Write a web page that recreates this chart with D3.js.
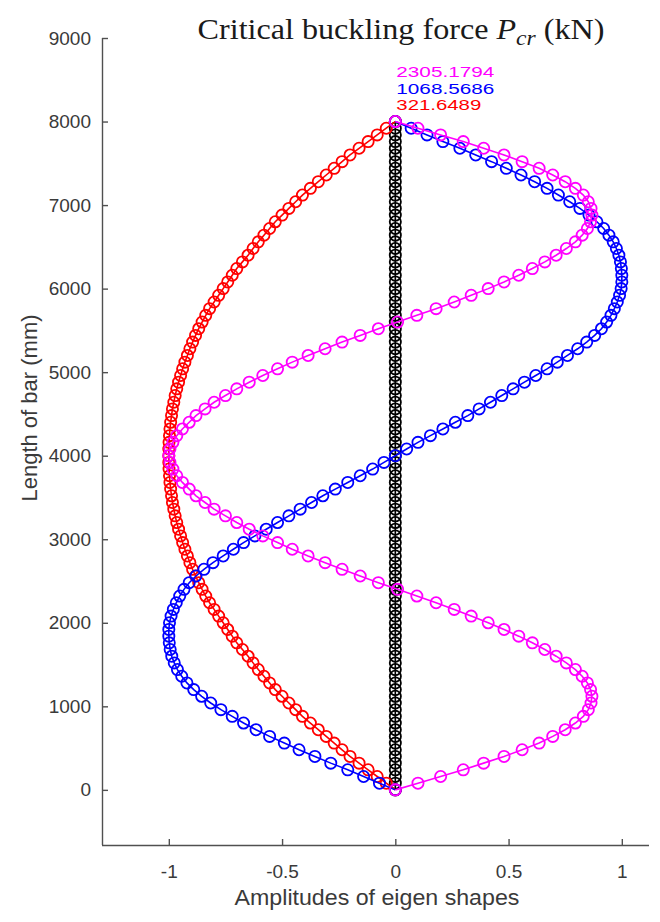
<!DOCTYPE html>
<html>
<head>
<meta charset="utf-8">
<script src="https://cdn.jsdelivr.net/npm/d3@7"></script>
<style>
  html, body { margin: 0; padding: 0; background: #fff; }
  svg { display: block; }
</style>
</head>
<body>
<svg id="chart" width="660" height="922"></svg>
<script>
// ---------------- DATA ----------------
// Node positions along the bar (mm)
const lengthNodes = [0,80,160,240,320,400,480,560,640,720,800,880,960,1040,1120,1200,1280,1360,1440,1520,1600,1680,1760,1840,1920,2000,2080,2160,2240,2320,2400,2480,2560,2640,2720,2800,2880,2960,3040,3120,3200,3280,3360,3440,3520,3600,3680,3760,3840,3920,4000,4080,4160,4240,4320,4400,4480,4560,4640,4720,4800,4880,4960,5040,5120,5200,5280,5360,5440,5520,5600,5680,5760,5840,5920,6000,6080,6160,6240,6320,6400,6480,6560,6640,6720,6800,6880,6960,7040,7120,7200,7280,7360,7440,7520,7600,7680,7760,7840,7920,8000];

// Undeformed bar (black)
const undeformed = [0,0,0,0,0,0,0,0,0,0,0,0,0,0,0,0,0,0,0,0,0,0,0,0,0,0,0,0,0,0,0,0,0,0,0,0,0,0,0,0,0,0,0,0,0,0,0,0,0,0,0,0,0,0,0,0,0,0,0,0,0,0,0,0,0,0,0,0,0,0,0,0,0,0,0,0,0,0,0,0,0,0,0,0,0,0,0,0,0,0,0,0,0,0,0,0,0,0,0,0,0];

// Mode 1 (red)
const mode1 = [0,-0.04,-0.08,-0.12,-0.16,-0.2,-0.235,-0.27,-0.305,-0.34,-0.375,-0.41,-0.44,-0.47,-0.5,-0.53,-0.555,-0.58,-0.605,-0.628,-0.65,-0.675,-0.7,-0.72,-0.74,-0.76,-0.78,-0.8,-0.82,-0.837,-0.853,-0.868,-0.882,-0.895,-0.907,-0.918,-0.929,-0.939,-0.948,-0.957,-0.965,-0.972,-0.978,-0.984,-0.988,-0.992,-0.995,-0.997,-0.999,-1,-1,
  -1,-0.999,-0.997,-0.995,-0.992,-0.988,-0.984,-0.978,-0.972,-0.965,-0.957,-0.948,-0.939,-0.929,-0.918,-0.907,-0.895,-0.882,-0.868,-0.853,-0.837,-0.82,-0.8,-0.78,-0.76,-0.74,-0.72,-0.7,-0.675,-0.65,-0.628,-0.605,-0.58,-0.555,-0.53,-0.5,-0.47,-0.44,-0.41,-0.375,-0.34,-0.305,-0.27,-0.235,-0.2,-0.16,-0.12,-0.08,-0.04,0];

// Mode 2 (blue)
const mode2 = [0,-0.07,-0.14,-0.21,-0.285,-0.355,-0.425,-0.49,-0.555,-0.615,-0.67,-0.72,-0.77,-0.815,-0.855,-0.89,-0.92,-0.943,-0.962,-0.976,-0.987,-0.994,-0.998,-1,-1,-0.997,-0.99,-0.98,-0.967,-0.952,-0.933,-0.91,-0.88,-0.845,-0.805,-0.76,-0.715,-0.67,-0.62,-0.57,-0.52,-0.47,-0.42,-0.37,-0.32,-0.265,-0.21,-0.155,-0.1,-0.05,0,
  0.05,0.1,0.155,0.21,0.265,0.32,0.37,0.42,0.47,0.52,0.57,0.62,0.67,0.715,0.76,0.805,0.845,0.88,0.91,0.933,0.952,0.967,0.98,0.99,0.997,1,1,0.998,0.994,0.987,0.976,0.962,0.943,0.92,0.89,0.855,0.815,0.77,0.72,0.67,0.615,0.555,0.49,0.425,0.355,0.285,0.21,0.14,0.07,0];

// Mode 3 (magenta)
const mode3 = [0,0.1,0.2,0.3,0.39,0.48,0.56,0.635,0.695,0.75,0.795,0.83,0.852,0.864,0.868,0.862,0.848,0.825,0.795,0.755,0.71,0.66,0.605,0.545,0.48,0.41,0.335,0.26,0.18,0.095,0.01,-0.075,-0.155,-0.235,-0.31,-0.385,-0.455,-0.52,-0.585,-0.645,-0.7,-0.75,-0.8,-0.84,-0.88,-0.91,-0.94,-0.965,-0.982,-0.995,-1,
  -0.995,-0.982,-0.965,-0.94,-0.91,-0.88,-0.84,-0.8,-0.75,-0.7,-0.645,-0.585,-0.52,-0.455,-0.385,-0.31,-0.235,-0.155,-0.075,0.01,0.095,0.18,0.26,0.335,0.41,0.48,0.545,0.605,0.66,0.71,0.755,0.795,0.825,0.848,0.862,0.868,0.864,0.852,0.83,0.795,0.75,0.695,0.635,0.56,0.48,0.39,0.3,0.2,0.1,0];

// Critical buckling forces (kN), labels and their heights (mm)
const forceLabels = ["321.6489", "1068.5686", "2305.1794"];
const forceLabelHeights = [8200, 8400, 8600];

const xTicks = [-1, -0.5, 0, 0.5, 1];
const yTicks = [0, 1000, 2000, 3000, 4000, 5000, 6000, 7000, 8000, 9000];
const xDomain = [-1.295, 1.12];
const yDomain = [-660, 9000];

// ---------------- DRAWING ----------------
const svg = d3.select("#chart");
const mLeft = 102, mRight = 649, mTop = 38, mBottom = 845;

const x = d3.scaleLinear().domain(xDomain).range([mLeft, mRight]);
const y = d3.scaleLinear().domain(yDomain).range([mBottom, mTop]);

const axisColor = "#505050";
const textColor = "#3a3a3a";
const sansFont = "'Liberation Sans', Arial, Helvetica, sans-serif";

// stretch a text element horizontally about an anchor x
function stretch(sel, targetWidth, anchorX) {
  const w = sel.node().getComputedTextLength();
  const sx = targetWidth / w;
  sel.attr("transform", `translate(${anchorX},0) scale(${sx},1) translate(${-anchorX},0)`);
}

// X axis
const gx = svg.append("g")
  .attr("transform", `translate(0,${mBottom})`)
  .call(d3.axisBottom(x).tickValues(xTicks).tickFormat(d => String(d))
    .tickSizeInner(-6).tickSizeOuter(0).tickPadding(20));
// Y axis
const gy = svg.append("g")
  .attr("transform", `translate(${mLeft},0)`)
  .call(d3.axisLeft(y).tickValues(yTicks).tickFormat(d => String(d))
    .tickSizeInner(-6).tickSizeOuter(0).tickPadding(11));

[gx, gy].forEach(g => {
  g.select(".domain").attr("stroke", axisColor).attr("stroke-width", 1.4);
  g.selectAll(".tick line").attr("stroke", axisColor).attr("stroke-width", 1.4);
  g.selectAll(".tick text").attr("fill", textColor)
    .style("font-family", sansFont).style("font-size", "19px");
});
gx.select(".domain").attr("d", `M${mLeft},0.5H${mRight}`);
gy.select(".domain").attr("d", `M0.5,${mBottom}V${mTop}`);

// Series
const series = [
  { values: undeformed, color: "#000000" },
  { values: mode1, color: "#ff0000" },
  { values: mode2, color: "#0000ff" },
  { values: mode3, color: "#ff00ff" }
];

const line = d3.line().x(d => x(d[0])).y(d => y(d[1]));

series.forEach(s => {
  const pts = s.values.map((v, i) => [v, lengthNodes[i]]);
  const g = svg.append("g");
  g.append("path")
    .attr("d", line(pts))
    .attr("fill", "none")
    .attr("stroke", s.color)
    .attr("stroke-width", 1.6);
  g.selectAll("circle").data(pts).enter().append("circle")
    .attr("cx", d => x(d[0]))
    .attr("cy", d => y(d[1]))
    .attr("r", 5.6)
    .attr("fill", "none")
    .attr("stroke", s.color)
    .attr("stroke-width", 1.8);
});

// Force labels
const labelColors = ["#ff0000", "#0000ff", "#ff00ff"];
const labelWidths = [85, 98, 98];
forceLabels.forEach((t, i) => {
  const lx = x(0) + 1;
  const lab = svg.append("text")
    .attr("x", lx)
    .attr("y", y(forceLabelHeights[i]))
    .attr("dy", "0.36em")
    .attr("fill", labelColors[i])
    .style("font-family", sansFont)
    .style("font-size", "15.5px")
    .text(t);
  stretch(lab, labelWidths[i], lx);
});

// Axis titles
const xt = svg.append("text")
  .attr("x", 377)
  .attr("y", 905)
  .attr("text-anchor", "middle")
  .attr("fill", textColor)
  .style("font-family", sansFont)
  .style("font-size", "22px")
  .text("Amplitudes of eigen shapes");
stretch(xt, 285, 377);

svg.append("text")
  .attr("transform", `translate(37,408) rotate(-90)`)
  .attr("text-anchor", "middle")
  .attr("fill", textColor)
  .style("font-family", sansFont)
  .style("font-size", "22px")
  .text("Length of bar (mm)");

// Title
const title = svg.append("text")
  .attr("x", 401)
  .attr("y", 39)
  .attr("text-anchor", "middle")
  .attr("fill", "#1a1a1a")
  .style("font-family", "'Liberation Serif', 'DejaVu Serif', serif")
  .style("font-size", "30px");
title.append("tspan").text("Critical buckling force ");
title.append("tspan").style("font-style", "italic").text("P");
title.append("tspan").style("font-style", "italic").style("font-size", "22px").attr("dy", 6).text("cr");
title.append("tspan").attr("dy", -6).text(" (kN)");
stretch(title, 407, 401);
</script>
</body>
</html>
